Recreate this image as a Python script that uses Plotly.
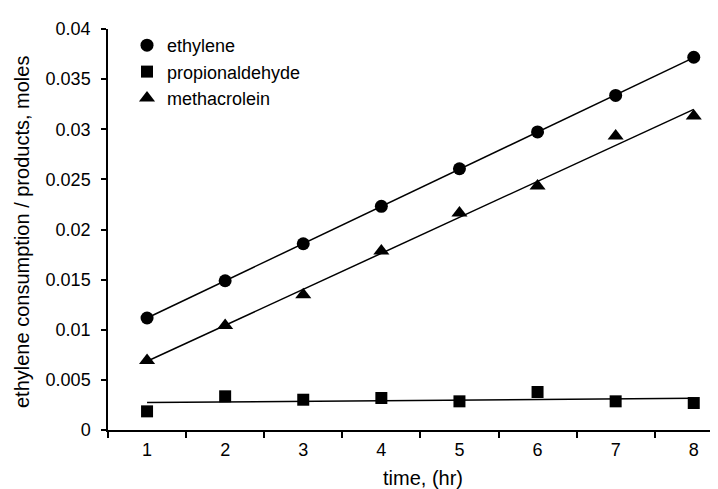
import numpy as np
import plotly.graph_objects as go

# ---- data ----
time_hr = [1, 2, 3, 4, 5, 6, 7, 8]
ethylene = [0.01117, 0.01489, 0.01858, 0.02231, 0.02606, 0.02973, 0.03337, 0.03718]
propionaldehyde = [0.00186, 0.00336, 0.00302, 0.00319, 0.00286, 0.00379, 0.00286, 0.00269]
methacrolein = [0.00693, 0.01042, 0.01350, 0.01786, 0.02165, 0.02434, 0.02933, 0.03132]
y_tickvals = [0, 0.005, 0.01, 0.015, 0.02, 0.025, 0.03, 0.035, 0.04]
y_ticktext = ["0", "0.005", "0.01", "0.015", "0.02", "0.025", "0.03", "0.035", "0.04"]

FONT = "Liberation Sans, Arial, sans-serif"
cats = [str(t) for t in time_hr]

fig = go.Figure()

series = [
    ("ethylene", ethylene, "circle", 13),
    ("propionaldehyde", propionaldehyde, "square", 12),
    ("methacrolein", methacrolein, "triangle-up", 14),
]

# trendlines (linear least squares from the data)
for name, vals, sym, size in series:
    k, b = np.polyfit(time_hr, vals, 1)
    fit = [k * t + b for t in time_hr]
    fig.add_trace(go.Scatter(x=cats, y=fit, mode="lines",
                             line=dict(color="black", width=1.5),
                             showlegend=False, hoverinfo="skip"))

for i, (name, vals, sym, size) in enumerate(series):
    fig.add_trace(go.Scatter(x=cats, y=vals, mode="markers", name=name,
                             marker=dict(symbol=sym, size=size, color="black")))

W, H = 718, 489
L, T, B = 100, 21, 67
plot_w = W - L
plot_h = H - T - B
cat_px = 78.1
x_max = -0.5 + plot_w / cat_px

fig.update_layout(
    width=W, height=H,
    margin=dict(l=L, r=0, t=T, b=B, pad=0),
    paper_bgcolor="white", plot_bgcolor="white",
    font=dict(family=FONT, size=18, color="black"),
    showlegend=True,
    legend=dict(x=(119 - L) / plot_w, y=1 - (19 - T) / plot_h,
                xanchor="left", yanchor="top",
                bgcolor="rgba(0,0,0,0)", font=dict(size=18, family=FONT),
                itemwidth=30, tracegroupgap=0),
    xaxis=dict(type="category", range=[-0.5, x_max],
               showline=True, linecolor="black", linewidth=1.5,
               ticks="outside", tickson="boundaries", ticklen=6,
               tickcolor="black", tickwidth=1.5,
               showgrid=False, zeroline=False, ticklabelstandoff=3,
               tickfont=dict(size=18, family=FONT)),
    yaxis=dict(range=[0, 0.04], tickvals=y_tickvals, ticktext=y_ticktext,
               showline=True, linecolor="black", linewidth=1.5,
               ticks="outside", ticklen=5, tickcolor="black", tickwidth=1.5,
               showgrid=False, zeroline=False, ticklabelstandoff=7,
               tickfont=dict(size=18, family=FONT)),
    annotations=[
        dict(text="time, (hr)", xref="paper", yref="paper",
             x=(415 - L) / plot_w, y=-(470 - (H - B)) / plot_h,
             xanchor="center", yanchor="middle", showarrow=False,
             font=dict(size=20, family=FONT)),
        dict(text="ethylene consumption / products, moles", xref="paper", yref="paper",
             x=(14 - L) / plot_w, y=((H - B) - 224) / plot_h,
             xanchor="center", yanchor="middle", textangle=-90, showarrow=False,
             font=dict(size=20, family=FONT)),
    ],
)

fig.write_html("out.html")
